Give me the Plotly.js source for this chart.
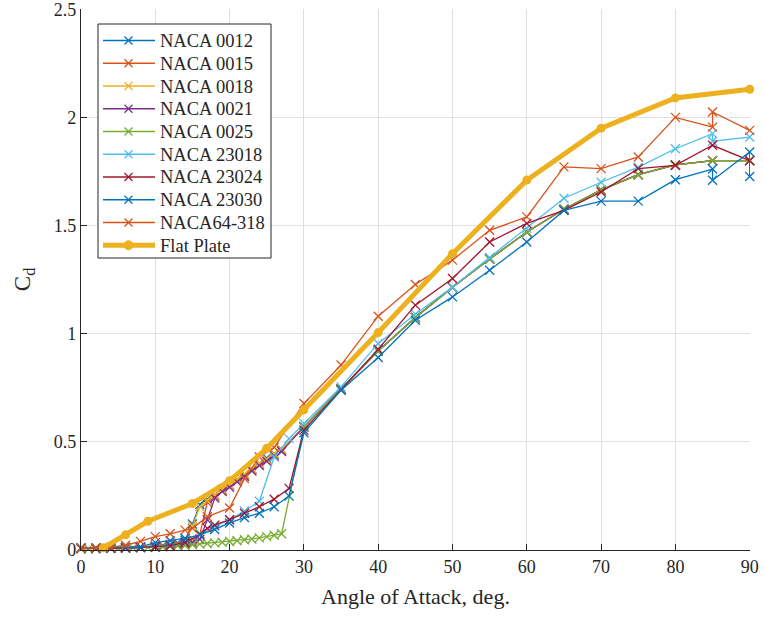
<!DOCTYPE html>
<html>
<head>
<meta charset="utf-8">
<script src="https://cdn.plot.ly/plotly-3.0.1.min.js"></script>
<style>html,body{margin:0;padding:0;background:#fff;}#chart{width:764px;height:619px;}</style>
</head>
<body>
<div id="chart"></div>
<script>
// ---- data ----
const seriesNames = ["NACA 0012","NACA 0015","NACA 0018","NACA 0021","NACA 0025","NACA 23018","NACA 23024","NACA 23030","NACA64-318"];
const seriesColors = ["#0072BD","#D95319","#EDB120","#7E2F8E","#77AC30","#4DBEEE","#A2142F","#0072BD","#D95319"];
const flatName = "Flat Plate";
const flatColor = "#EDB120";

const angHi = [30,35,40,45,50,55,60,65,70,75,80,85,90];
const cdHiSym = [0.57,0.745,0.92,1.075,1.215,1.345,1.47,1.575,1.665,1.735,1.78,1.80,1.80];

const ang0012 = [0,2,4,6,8,10,11,12,13,14,15,16,17,18,19,20,21,22,23,24,25,26,27].concat(angHi);
const cd0012 = [0.008,0.008,0.009,0.011,0.013,0.018,0.021,0.026,0.033,0.045,0.12,0.21,0.235,0.255,0.28,0.30,0.325,0.35,0.375,0.40,0.425,0.445,0.465].concat(cdHiSym);

const ang0015 = [0,2,4,6,8,10,11,12,13,14,15,16,17,18,19,20,21,22,23,24,25,26,27].concat(angHi);
const cd0015 = [0.008,0.008,0.009,0.011,0.013,0.016,0.019,0.023,0.028,0.035,0.05,0.075,0.22,0.25,0.275,0.30,0.32,0.345,0.37,0.395,0.42,0.44,0.46].concat(cdHiSym);

const ang0018 = [0,2,4,6,8,10,11,12,13,14,15,16,17,18,19,20,21,22,23,24,25,26,27].concat(angHi);
const cd0018 = [0.008,0.008,0.009,0.010,0.012,0.015,0.017,0.020,0.025,0.032,0.11,0.20,0.23,0.255,0.28,0.30,0.325,0.35,0.375,0.40,0.42,0.445,0.465].concat(cdHiSym);

const ang0021 = [0,2,4,6,8,10,11,12,13,14,15,16,17,18,19,20,21,22,23,24,25,26,27].concat(angHi);
const cd0021 = [0.008,0.008,0.009,0.010,0.012,0.014,0.016,0.018,0.022,0.027,0.035,0.05,0.14,0.24,0.27,0.29,0.315,0.34,0.365,0.39,0.41,0.435,0.455].concat(cdHiSym);

const ang0025 = [0,1,2,3,4,5,6,7,8,9,10,11,12,13,14,15,16,17,18,19,20,21,22,23,24,25,26,27].concat(angHi);
const cd0025 = [0.006,0.006,0.007,0.007,0.008,0.008,0.009,0.010,0.011,0.012,0.013,0.015,0.017,0.019,0.021,0.024,0.027,0.030,0.033,0.036,0.039,0.043,0.047,0.051,0.056,0.062,0.068,0.075].concat(cdHiSym);

const ang23018 = [0,2,4,6,8,10,12,14,16,18,20,22,24,26,28,30,35,40,45,50,55,60,65,70,75,80,85,85,90];
const cd23018 = [0.007,0.007,0.008,0.009,0.011,0.014,0.020,0.035,0.07,0.11,0.14,0.18,0.225,0.43,0.515,0.585,0.754,0.955,1.09,1.216,1.352,1.487,1.626,1.70,1.77,1.855,1.925,1.89,1.909];

const ang23024 = [0,2,4,6,8,10,12,14,16,17,18,20,22,24,26,28,30,35,40,45,50,55,60,65,70,75,80,85,90];
const cd23024 = [0.007,0.007,0.008,0.009,0.011,0.014,0.020,0.035,0.07,0.10,0.115,0.14,0.17,0.20,0.235,0.285,0.554,0.739,0.928,1.132,1.255,1.424,1.51,1.57,1.655,1.763,1.778,1.871,1.80];

const ang23030 = [0,2,4,6,8,10,12,14,16,18,20,22,24,26,28,30,35,40,45,50,55,60,65,70,75,80,85,85,90,90];
const cd23030 = [0.008,0.009,0.010,0.012,0.015,0.034,0.043,0.054,0.07,0.095,0.125,0.15,0.17,0.20,0.25,0.542,0.739,0.89,1.062,1.17,1.293,1.424,1.57,1.613,1.613,1.712,1.761,1.709,1.84,1.727];

const ang64318 = [0,2,4,6,8,10,12,14,15,17,20,22,24,26,30,35,40,45,50,55,60,65,70,75,80,85,85,90];
const cd64318 = [0.008,0.009,0.012,0.022,0.040,0.062,0.075,0.092,0.10,0.154,0.194,0.33,0.43,0.475,0.677,0.855,1.081,1.227,1.34,1.478,1.54,1.771,1.763,1.817,2.0,1.955,2.025,1.94];

const angFlat = [3,6,9,15,20,25,30,40,50,60,70,80,90];
const cdFlat = [0.01,0.07,0.133,0.215,0.32,0.47,0.648,1.005,1.37,1.71,1.95,2.09,2.13];

const xTicks = [0,10,20,30,40,50,60,70,80,90];
const yTicks = [0,0.5,1,1.5,2,2.5];
const yTickText = ["0","0.5","1","1.5","2","2.5"];

// ---- traces ----
const angs = [ang0012,ang0015,ang0018,ang0021,ang0025,ang23018,ang23024,ang23030,ang64318];
const cds = [cd0012,cd0015,cd0018,cd0021,cd0025,cd23018,cd23024,cd23030,cd64318];
const traces = seriesNames.map((n,i)=>({
  type:'scatter', mode:'lines+markers', name:n,
  x:angs[i], y:cds[i],
  line:{color:seriesColors[i], width:1.3},
  marker:{symbol:'x-thin', size:9, color:seriesColors[i], line:{color:seriesColors[i], width:1.3}},
  cliponaxis:false, showlegend:false
}));
traces.push({
  type:'scatter', mode:'lines+markers', name:flatName,
  x:angFlat, y:cdFlat,
  line:{color:flatColor, width:5},
  marker:{symbol:'circle', size:9, color:flatColor},
  cliponaxis:false, showlegend:false
});

// ---- legend box (MATLAB-style, compact rows) ----
const M = {l:81, r:14, t:9, b:69};
const PW = 764 - M.l - M.r, PH = 619 - M.t - M.b;
const px2x = p => (p - M.l) / PW;
const px2y = p => (619 - M.b - p) / PH;
const font = {family:'"Liberation Serif", "Times New Roman", serif', color:'#262626'};
const legNames = seriesNames.concat([flatName]);
const legColors = seriesColors.concat([flatColor]);
const shapes = [{type:'rect', xref:'paper', yref:'paper', x0:px2x(98), x1:px2x(271), y0:px2y(24), y1:px2y(258),
  line:{color:'#262626', width:1}, fillcolor:'#ffffff', layer:'above'}];
const annotations = [];
legNames.forEach((n,i)=>{
  const yy = 40.5 + i*22.75;
  const isFlat = i === legNames.length - 1;
  shapes.push({type:'line', xref:'paper', yref:'paper', x0:px2x(103), x1:px2x(155), y0:px2y(yy), y1:px2y(yy),
    line:{color:legColors[i], width:isFlat?5:1.3}, layer:'above'});
  if (isFlat) {
    shapes.push({type:'circle', xref:'paper', yref:'paper', x0:px2x(124), x1:px2x(133), y0:px2y(yy+4.5), y1:px2y(yy-4.5),
      line:{color:legColors[i], width:1}, fillcolor:legColors[i], layer:'above'});
  } else {
    shapes.push({type:'line', xref:'paper', yref:'paper', x0:px2x(124.5), x1:px2x(132.5), y0:px2y(yy-4), y1:px2y(yy+4),
      line:{color:legColors[i], width:1.3}, layer:'above'});
    shapes.push({type:'line', xref:'paper', yref:'paper', x0:px2x(124.5), x1:px2x(132.5), y0:px2y(yy+4), y1:px2y(yy-4),
      line:{color:legColors[i], width:1.3}, layer:'above'});
  }
  annotations.push({xref:'paper', yref:'paper', x:px2x(158), y:px2y(yy+0.5), xanchor:'left', yanchor:'middle',
    text:n, showarrow:false, font:Object.assign({size:18.5}, font)});
});

const layout = {
  width:764, height:619,
  margin:M,
  paper_bgcolor:'#fff', plot_bgcolor:'#fff',
  font:Object.assign({size:17}, font),
  showlegend:false,
  shapes:shapes, annotations:annotations,
  xaxis:{range:[0,90.04], tickvals:xTicks, ticktext:xTicks.map(String),
    showgrid:true, gridcolor:'#e0e0e0', gridwidth:1,
    showline:true, linecolor:'#262626', linewidth:1.2,
    ticks:'inside', ticklen:6, tickcolor:'#262626',
    zeroline:false, ticklabeloverflow:'allow', tickfont:Object.assign({size:18}, font),
    title:{text:'Angle of Attack, deg.', font:Object.assign({size:22}, font), standoff:12}},
  yaxis:{range:[0,2.501], tickvals:yTicks, ticktext:yTickText,
    showgrid:true, gridcolor:'#e0e0e0', gridwidth:1,
    showline:true, linecolor:'#262626', linewidth:1.2,
    ticks:'inside', ticklen:6, tickcolor:'#262626',
    zeroline:false, ticklabeloverflow:'allow', tickfont:Object.assign({size:18}, font),
    title:{text:'C<sub>d</sub>', font:Object.assign({size:23}, font), standoff:16}}
};
Plotly.newPlot('chart', traces, layout, {displayModeBar:false, staticPlot:true});
</script>
</body>
</html>
